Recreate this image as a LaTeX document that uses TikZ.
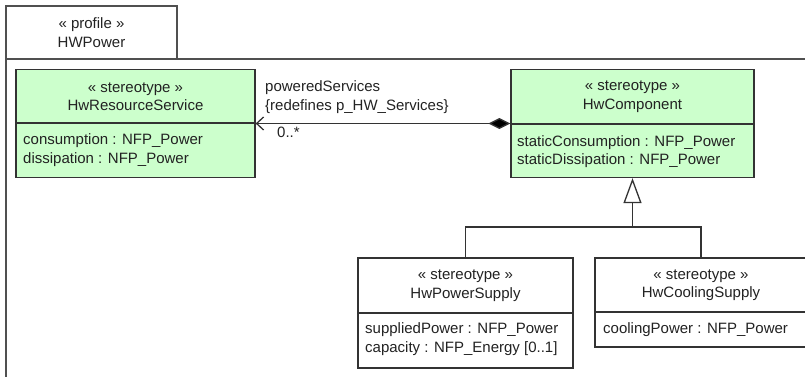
\documentclass[tikz,border=0pt]{standalone}
\usepackage{fontspec}
\setmainfont{Liberation Sans}
\usetikzlibrary{arrows.meta}
\definecolor{umlgreen}{HTML}{CCFFCC}
\definecolor{boxline}{HTML}{333333}
\definecolor{pkgline}{HTML}{505050}
\definecolor{txt}{HTML}{222222}
\begin{document}
\begin{tikzpicture}[x=1bp,y=-1bp,
  every node/.style={text=txt},
  font=\fontsize{15bp}{18.5bp}\selectfont,
  pkg/.style={draw=pkgline, line width=2bp},
  cls/.style={draw=boxline, line width=1.3bp, inner sep=0pt},
  hdr/.style={align=center, inner sep=0pt},
  attr/.style={anchor=base west, inner sep=0pt},
  lbl/.style={anchor=base west, inner sep=0pt},
  conn/.style={draw=boxline, line width=1.3bp},
  divider/.style={draw=boxline, line width=1.3bp}]
\useasboundingbox (0,0) rectangle (805,376);

% package frame
\draw[pkg] (6,380) -- (6,59) -- (812,59);
\node[pkg, minimum width=171bp, minimum height=53bp, align=center, inner sep=0pt] (tab) at (91.5,32.5) {« profile »\\HWPower};

% HwResourceService
\node[cls, fill=umlgreen, minimum width=239bp, minimum height=108bp] (rs) at (135.5,123.5) {};
\draw[divider] (16,123) -- (255,123);
\node[hdr] (rsH) at (135.5,96.5) {« stereotype »\\HwResourceService};
\node[attr] (rsA1) at (23,144) {consumption : NFP\_Power};
\node[attr] (rsA2) at (23,163) {dissipation : NFP\_Power};

% HwComponent
\node[cls, fill=umlgreen, minimum width=243bp, minimum height=108bp] (hc) at (632.5,123.5) {};
\draw[divider] (511,124) -- (754,124);
\node[hdr] (hcH) at (632.5,96.5) {« stereotype »\\HwComponent};
\node[attr] (hcA1) at (517,146) {staticConsumption : NFP\_Power};
\node[attr] (hcA2) at (517,164) {staticDissipation : NFP\_Power};

% HwPowerSupply
\node[cls, fill=white, minimum width=215bp, minimum height=110bp] (ps) at (465.5,313) {};
\draw[divider] (358,313) -- (573,313);
\node[hdr] (psH) at (465.5,285.5) {« stereotype »\\HwPowerSupply};
\node[attr] (psA1) at (365,333) {suppliedPower : NFP\_Power};
\node[attr] (psA2) at (365,352) {capacity : NFP\_Energy [0..1]};

% HwCoolingSupply
\node[cls, fill=white, minimum width=212bp, minimum height=89bp] (cs) at (701,302.5) {};
\draw[divider] (595,312) -- (807,312);
\node[hdr] (csH) at (701,285) {« stereotype »\\HwCoolingSupply};
\node[attr] (csA1) at (603,333) {coolingPower : NFP\_Power};

% association
\draw[conn, {Diamond[length=22bp,width=11bp,fill=black]}-{Straight Barb[length=7bp,width=13bp]}] (hc.west) -- (rs.east);
\node[lbl] (role) at (265,91) {poweredServices};
\node[lbl] (redef) at (265,110) {\{redefines p\_HW\_Services\}};
\node[lbl] (mult) at (277,137) {0..*};

% generalization
\coordinate (j) at (632.5,227);
\draw[conn, -{Triangle[open,length=25bp,width=18bp,fill=white]}] (j) -- (hc.south);
\draw[conn] (ps.north) |- (j) -| (cs.north);
\end{tikzpicture}
\end{document}
